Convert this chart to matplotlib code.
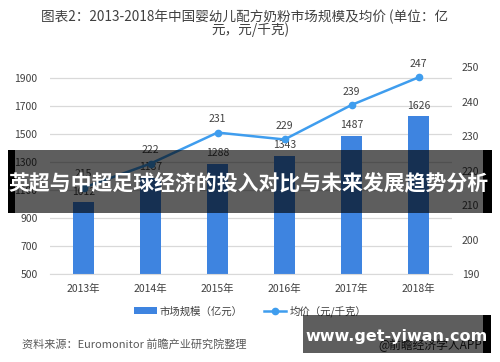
import matplotlib
matplotlib.use("Agg")
import matplotlib.pyplot as plt
from matplotlib.patches import Rectangle

plt.rcParams['font.family'] = ['Noto Sans CJK SC', 'DejaVu Sans']

years = ["2013年", "2014年", "2015年", "2016年", "2017年", "2018年"]
market_size = [1012, 1187, 1288, 1343, 1487, 1626]
avg_price = [215, 222, 231, 229, 239, 247]
left_ticks = [500, 700, 900, 1100, 1300, 1500, 1700, 1900]
right_ticks = [190, 200, 210, 220, 230, 240, 250]

W, H = 500, 362
fig = plt.figure(figsize=(W / 100, H / 100), dpi=100)

def fx(px):
    return px / W

def fy(py):
    return 1 - py / H

ax = fig.add_axes([fx(50), fy(274), fx(452) - fx(50), fy(66) - fy(274)])
ax2 = ax.twinx()

x = list(range(len(years)))
bar_color = '#3E84E0'
line_color = '#3F9DEE'
txt_color = '#404040'

ax.bar(x, market_size, width=0.31, color=bar_color, zorder=2, label='市场规模（亿元）')
ax.set_ylim(500, 1986)
ax.set_xlim(-0.5, len(years) - 0.5)
ax.set_yticks(left_ticks)
ax.grid(axis='y', color='#D9D9D9', linewidth=0.9, zorder=0)
ax.set_axisbelow(True)
ax.set_xticks(x)
ax.set_xticklabels(years)
ax.tick_params(axis='y', length=0, pad=9, labelsize=7.5, labelcolor=txt_color)
ax.tick_params(axis='x', length=0, pad=7, labelsize=7.5, labelcolor=txt_color)
for s in ax.spines.values():
    s.set_visible(False)
ax.spines['bottom'].set_visible(True)
ax.spines['bottom'].set_color('#D9D9D9')

for xi, v in zip(x, market_size):
    ax.annotate(str(v), (xi, v), xytext=(0, 4), textcoords='offset points',
                ha='center', va='bottom', fontsize=7.5, color=txt_color)

ax2.plot(x, avg_price, color=line_color, linewidth=1.8, marker='o', markersize=4.5,
         label='均价（元/千克）', zorder=3)
ax2.set_ylim(190, 250.3)
ax2.set_yticks(right_ticks)
ax2.tick_params(axis='y', length=0, pad=7, labelsize=7.5, labelcolor=txt_color)
for s in ax2.spines.values():
    s.set_visible(False)
for xi, v in zip(x, avg_price):
    ax2.annotate(str(v), (xi, v), xytext=(0, 6), textcoords='offset points',
                 ha='center', va='bottom', fontsize=7.5, color=txt_color)

# Title
fig.text(fx(245), fy(17), "图表2：2013-2018年中国婴幼儿配方奶粉市场规模及均价 (单位：亿",
         ha='center', va='center', fontsize=9.8, color='#404040')
fig.text(0.5, fy(30), "元，元/千克)", ha='center', va='center', fontsize=9.8, color='#404040')

# Legend
h1, l1 = ax.get_legend_handles_labels()
h2, l2 = ax2.get_legend_handles_labels()
fig.legend(h1 + h2, l1 + l2, loc='center', bbox_to_anchor=(fx(250), fy(311)), ncol=2,
           frameon=False, fontsize=7.5, handlelength=2.2, handleheight=0.6,
           columnspacing=2.0, handletextpad=0.3, labelcolor=txt_color)

# Source
fig.text(fx(22), fy(344), "资料来源：Euromonitor 前瞻产业研究院整理", ha='left', va='center',
         fontsize=8, color='#595959')

# Banner overlay
fig.add_artist(Rectangle((fx(15), fy(213)), fx(483) - fx(15), fy(150) - fy(213),
                         transform=fig.transFigure, facecolor='black', alpha=0.63,
                         edgecolor='none', zorder=10))
fig.add_artist(Rectangle((fx(8), fy(213)), fx(15) - fx(8), fy(150) - fy(213),
                         transform=fig.transFigure, facecolor='black',
                         edgecolor='none', zorder=10))
fig.add_artist(Rectangle((fx(483), fy(213)), fx(492) - fx(483), fy(150) - fy(213),
                         transform=fig.transFigure, facecolor='black',
                         edgecolor='none', zorder=10))
fig.text(fx(249), fy(183), "英超与中超足球经济的投入对比与未来发展趋势分析",
         ha='center', va='center', fontsize=15, fontweight='bold', color='white',
         zorder=11)

# Watermark box
fig.text(fx(482), fy(345), "@前瞻经济学人APP", ha='right', va='center', fontsize=8.5,
         color='#222222', zorder=9)
fig.add_artist(Rectangle((fx(303), fy(353)), fx(483) - fx(303), fy(315) - fy(353),
                         transform=fig.transFigure, facecolor='black', alpha=0.63,
                         edgecolor='none', zorder=10))
fig.add_artist(Rectangle((fx(483), fy(353)), fx(491) - fx(483), fy(315) - fy(353),
                         transform=fig.transFigure, facecolor='black',
                         edgecolor='none', zorder=10))
fig.text(fx(397), fy(336), "www.get-yiwan.com", ha='center', va='center',
         fontsize=11.5, fontweight='bold', color='white', family='DejaVu Sans', zorder=11)

fig.savefig("out.png", dpi=100)
